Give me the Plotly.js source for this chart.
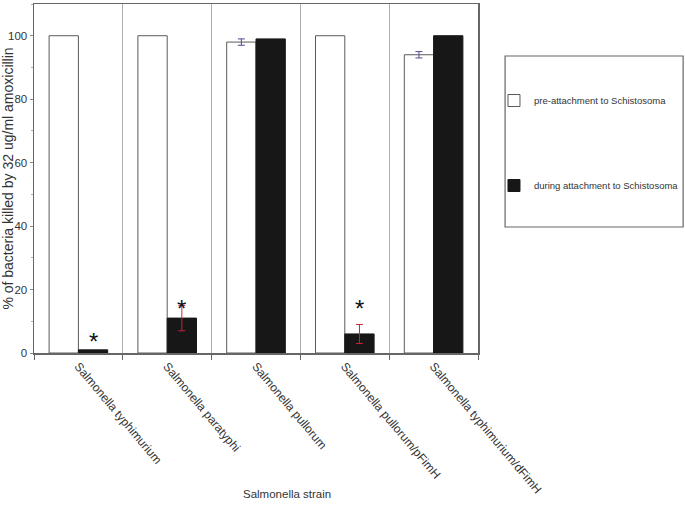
<!DOCTYPE html>
<html>
<head>
<meta charset="utf-8">
<script src="https://cdn.plot.ly/plotly-3.0.1.min.js"></script>
<style>
  body { margin: 0; background: #fff; }
  #chart { width: 685px; height: 513px; }
</style>
</head>
<body>
<div id="chart"></div>
<script>
const strains = [
    'Salmonella typhimurium', 'Salmonella paratyphi', 'Salmonella pullorum',
    'Salmonella pullorum/pFimH', 'Salmonella typhimurium/dFimH'
];

// % killed
const preAttach = [100, 100, 98, 100, 94];
const preErr = [NaN, NaN, 1, NaN, 1];
const duringAttach = [1, 11, 99, 6, 100];
const duringErr = [NaN, 4, NaN, 3, NaN];

// height of the significance stars (null = no star)
const starY = [3.5, 14, null, 14, null];

const narrow = 'Liberation Sans Narrow, Arial Narrow, Liberation Sans, Arial, sans-serif';

const traces = [
    {
        type: 'bar',
        name: 'pre-attachment to Schistosoma',
        x: strains,
        y: preAttach,
        legendgroup: 'a',
        marker: { color: '#ffffff', line: { color: '#5a5a5a', width: 1 } },
        error_y: { type: 'data', array: preErr, visible: true, color: '#4b4b8c', thickness: 1, width: 3.5 }
    },
    {
        type: 'bar',
        name: 'during attachment to Schistosoma',
        x: strains,
        y: duringAttach,
        legendgroup: 'b',
        marker: { color: '#171717', line: { color: '#171717', width: 1 } },
        error_y: { type: 'data', array: duringErr, visible: true, color: '#c4243f', thickness: 1, width: 3.5 }
    }
];

const notes = [];
strains.forEach((s, i) => {
    if (starY[i] === null) return;
    notes.push({
        x: s, y: starY[i], xref: 'x', yref: 'y',
        text: '*', showarrow: false, xshift: 14.75,
        font: { size: 24, color: '#111', family: 'Liberation Sans, Arial' }
    });
});
// x axis title sits right of the plot centre in the original
notes.push({
    xref: 'paper', yref: 'paper', x: 0.57, y: -0.427,
    text: 'Salmonella strain', showarrow: false,
    font: { size: 11.5, family: narrow, color: '#333' }
});

const layout = {
    width: 685,
    height: 513,
    margin: { l: 34, r: 207, t: 4, b: 160, autoexpand: false },
    paper_bgcolor: '#fff',
    plot_bgcolor: '#fff',
    barmode: 'group',
    bargap: 0.34,
    bargroupgap: 0,
    font: { family: narrow, color: '#333' },
    xaxis: {
        type: 'category',
        tickson: 'boundaries',
        ticks: 'outside',
        ticklen: 5,
        tickcolor: '#666',
        tickangle: 50,
        tickfont: { size: 12, family: narrow, color: '#333' },
        showgrid: true,
        gridcolor: '#b0b0b0',
        gridwidth: 1,
        showline: true,
        linecolor: '#666',
        linewidth: 1.5,
        mirror: true
    },
    yaxis: {
        range: [0, 110],
        tickvals: [0, 20, 40, 60, 80, 100],
        ticks: 'outside',
        ticklen: 3,
        tickcolor: '#888',
        minor: { dtick: 10, ticks: 'outside', ticklen: 2, tickcolor: '#aaa' },
        tickfont: { size: 11.5, family: narrow, color: '#333' },
        showgrid: false,
        zeroline: false,
        showline: true,
        linecolor: '#666',
        linewidth: 1.5,
        mirror: true,
        title: { text: '% of bacteria killed by 32 ug/ml amoxicillin', font: { size: 14, family: 'Liberation Sans, Arial', color: '#333' }, standoff: 6 }
    },
    showlegend: true,
    legend: {
        x: 1.036, y: 0.765, xanchor: 'left', yanchor: 'top',
        traceorder: 'grouped',
        tracegroupgap: 66,
        itemwidth: 30,
        bgcolor: 'rgba(0,0,0,0)',
        borderwidth: 0,
        font: { size: 9.5, family: narrow, color: '#333' }
    },
    shapes: [{
        type: 'rect', xref: 'paper', yref: 'paper',
        x0: 1.061, x1: 1.462, y0: 0.361, y1: 0.851,
        line: { color: '#666', width: 1.2 }, fillcolor: 'rgba(0,0,0,0)'
    }],
    annotations: notes
};

Plotly.newPlot('chart', traces, layout, { displayModeBar: false, staticPlot: true });
</script>
</body>
</html>
